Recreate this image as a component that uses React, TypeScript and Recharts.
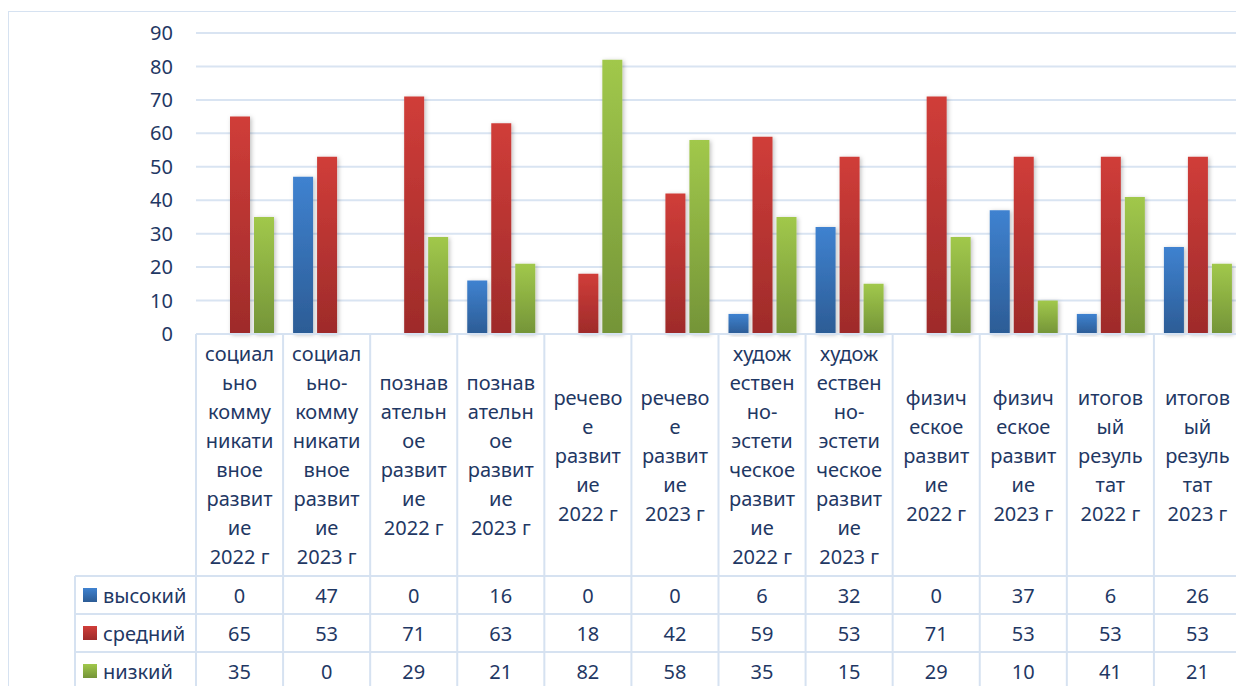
import React from 'react';
import { BarChart, Bar, XAxis, YAxis, CartesianGrid } from 'recharts';

// categories as they are wrapped inside the table header cells
const categoryLines: string[][] = [
  ['социал', 'ьно', 'комму', 'никати', 'вное', 'развит', 'ие', '2022 г'],
  ['социал', 'ьно-', 'комму', 'никати', 'вное', 'развит', 'ие', '2023 г'],
  ['познав', 'ательн', 'ое', 'развит', 'ие', '2022 г'],
  ['познав', 'ательн', 'ое', 'развит', 'ие', '2023 г'],
  ['речево', 'е', 'развит', 'ие', '2022 г'],
  ['речево', 'е', 'развит', 'ие', '2023 г'],
  ['худож', 'ествен', 'но-', 'эстети', 'ческое', 'развит', 'ие', '2022 г'],
  ['худож', 'ествен', 'но-', 'эстети', 'ческое', 'развит', 'ие', '2023 г'],
  ['физич', 'еское', 'развит', 'ие', '2022 г'],
  ['физич', 'еское', 'развит', 'ие', '2023 г'],
  ['итогов', 'ый', 'резуль', 'тат', '2022 г'],
  ['итогов', 'ый', 'резуль', 'тат', '2023 г'],
];

const high = [0, 47, 0, 16, 0, 0, 6, 32, 0, 37, 6, 26];
const mid = [65, 53, 71, 63, 18, 42, 59, 53, 71, 53, 53, 53];
const low = [35, 0, 29, 21, 82, 58, 35, 15, 29, 10, 41, 21];

const seriesNames = ['высокий', 'средний', 'низкий'];
const yTicks = [0, 10, 20, 30, 40, 50, 60, 70, 80, 90];

const data = categoryLines.map((lines, i) => ({
  name: lines.join(' '),
  high: high[i],
  mid: mid[i],
  low: low[i],
}));

const seriesValues = [high, mid, low];
const gradIds = ['gBlue', 'gRed', 'gGreen'];

const TEXT = '#1f3864';
const BORDER = '#d6e2f1';
const FONT = '"Noto Sans", sans-serif';

const HEADER_H = 242;
const ROW_H = 38;
const LINE_H = 29;

function TableTick(props: any) {
  const { x, y, index, width, visibleTicksCount } = props;
  const n = visibleTicksCount || categoryLines.length;
  const cw = (width || 1045) / n;
  const left = x - cw / 2;
  const right = x + cw / 2;
  const lines = categoryLines[index] || [];
  const midY = y + HEADER_H / 2;
  const startY = midY - ((lines.length - 1) * LINE_H) / 2;
  const legendLeft = 67;
  const bottom = y + HEADER_H + ROW_H * 3 + 10;

  return (
    <g fontFamily={FONT} fontSize={20} fill={TEXT}>
      <line x1={left} x2={left} y1={y} y2={bottom} stroke={BORDER} strokeWidth={2} />
      {index === n - 1 && (
        <line x1={right} x2={right} y1={y} y2={bottom} stroke={BORDER} strokeWidth={2} />
      )}
      {[0, 1, 2, 3].map((r) => (
        <line
          key={r}
          x1={index === 0 ? legendLeft : left}
          x2={right}
          y1={y + HEADER_H + r * ROW_H}
          y2={y + HEADER_H + r * ROW_H}
          stroke={BORDER}
          strokeWidth={2}
        />
      ))}
      {lines.map((t, k) => (
        <text key={k} x={x} y={startY + k * LINE_H} textAnchor="middle" dominantBaseline="central">
          {t}
        </text>
      ))}
      {seriesValues.map((vals, r) => (
        <text
          key={r}
          x={x}
          y={y + HEADER_H + ROW_H * r + ROW_H / 2}
          textAnchor="middle"
          dominantBaseline="central"
        >
          {vals[index]}
        </text>
      ))}
      {index === 0 && (
        <g>
          <line x1={legendLeft} x2={legendLeft} y1={y + HEADER_H} y2={bottom} stroke={BORDER} strokeWidth={2} />
          {seriesNames.map((s, r) => {
            const cy = y + HEADER_H + ROW_H * r + ROW_H / 2;
            return (
              <g key={s}>
                <rect x={legendLeft + 8} y={cy - 7} width={14} height={14} fill={`url(#${gradIds[r]})`} />
                <text x={legendLeft + 28} y={cy} dominantBaseline="central">
                  {s}
                </text>
              </g>
            );
          })}
        </g>
      )}
    </g>
  );
}

export default function App() {
  return (
    <div style={{ position: 'relative', width: 1236, height: 678, overflow: 'hidden' }}>
      <div
        style={{
          position: 'absolute',
          left: 0,
          top: 3,
          width: 1240,
          height: 700,
          border: `1px solid ${BORDER}`,
        }}
      />
      <div style={{ position: 'absolute', left: 0, top: 0 }}>
        <BarChart
          width={1236}
          height={690}
          data={data}
          margin={{ top: 25, right: 3, bottom: 0, left: 128 }}
          barSize={20}
          barGap={4}
        >
          <defs>
            <linearGradient id="gBlue" x1="0" y1="0" x2="0" y2="1">
              <stop offset="0%" stopColor="#3f82d0" />
              <stop offset="100%" stopColor="#2c5c95" />
            </linearGradient>
            <linearGradient id="gRed" x1="0" y1="0" x2="0" y2="1">
              <stop offset="0%" stopColor="#d03d39" />
              <stop offset="100%" stopColor="#9e2b2a" />
            </linearGradient>
            <linearGradient id="gGreen" x1="0" y1="0" x2="0" y2="1">
              <stop offset="0%" stopColor="#a1c84b" />
              <stop offset="100%" stopColor="#749438" />
            </linearGradient>
            <filter id="shadow" x="-30%" y="-10%" width="160%" height="120%">
              <feDropShadow dx="1.5" dy="1" stdDeviation="2" floodColor="#000" floodOpacity="0.25" />
            </filter>
          </defs>
          <CartesianGrid vertical={false} stroke="#d9e4f2" strokeWidth={2} />
          <YAxis
            width={60}
            domain={[0, 90]}
            ticks={yTicks}
            axisLine={false}
            tickLine={false}
            tickSize={0}
            tickMargin={23}
            tick={{ fill: TEXT, fontSize: 20, fontFamily: FONT }}
          />
          <XAxis
            dataKey="name"
            height={364}
            axisLine={{ stroke: BORDER, strokeWidth: 2 }}
            tickLine={false}
            tickSize={0}
            tickMargin={0}
            interval={0}
            tick={<TableTick />}
          />
          <Bar dataKey="high" name={seriesNames[0]} fill="url(#gBlue)" filter="url(#shadow)" isAnimationActive={false} />
          <Bar dataKey="mid" name={seriesNames[1]} fill="url(#gRed)" filter="url(#shadow)" isAnimationActive={false} />
          <Bar dataKey="low" name={seriesNames[2]} fill="url(#gGreen)" filter="url(#shadow)" isAnimationActive={false} />
        </BarChart>
      </div>
    </div>
  );
}
